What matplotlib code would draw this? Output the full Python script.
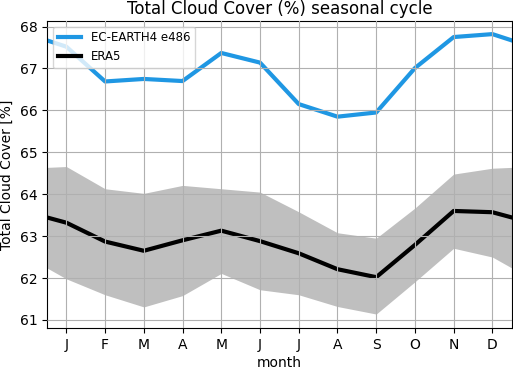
import numpy as np
import matplotlib
matplotlib.use("Agg")
import matplotlib.pyplot as plt

months = ["J", "F", "M", "A", "M", "J", "J", "A", "S", "O", "N", "D"]
ecearth = [67.52, 66.69, 66.75, 66.70, 67.37, 67.14, 66.15, 65.85, 65.95, 67.01, 67.75, 67.82]
era5 = [63.32, 62.87, 62.65, 62.90, 63.13, 62.88, 62.59, 62.21, 62.02, 62.79, 63.60, 63.57]
era5_hi = [64.66, 64.13, 64.02, 64.21, 64.13, 64.05, 63.58, 63.08, 62.95, 63.67, 64.48, 64.62]
era5_lo = [61.98, 61.60, 61.31, 61.58, 62.11, 61.72, 61.60, 61.32, 61.14, 61.91, 62.71, 62.50]

def cyc(v):
    v = list(v)
    return np.array([v[-1]] + v + [v[0]])

x = np.arange(0, 14)

fig = plt.figure(figsize=(5.13, 3.69), dpi=100)
ax = fig.add_axes([0.0916, 0.1103, 0.906, 0.8336])

ax.fill_between(x, cyc(era5_lo), cyc(era5_hi), color="grey", alpha=0.5, linewidth=0)
ax.plot(x, cyc(ecearth), color="#1f97e3", linewidth=3, label="EC-EARTH4 e486")
ax.plot(x, cyc(era5), color="black", linewidth=3, label="ERA5")

ax.set_xlim(0.5, 12.5)
ax.set_ylim(60.8, 68.14)
ax.set_xticks(np.arange(1, 13))
ax.set_xticklabels(months)
ax.set_yticks(np.arange(61, 69))
ax.grid(True)
ax.set_axisbelow(False)
ax.set_xlabel("month", labelpad=3)
ax.set_ylabel("Total Cloud Cover [%]")
ax.set_title("Total Cloud Cover (%) seasonal cycle", pad=5)
ax.legend(loc="upper left", fontsize=8.5)

fig.savefig("out.png", dpi=100)
